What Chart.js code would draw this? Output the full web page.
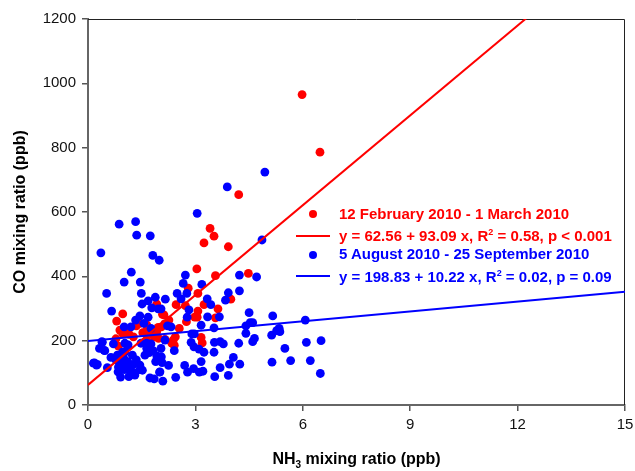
<!DOCTYPE html>
<html>
<head>
<meta charset="utf-8">
<script src="https://cdn.jsdelivr.net/npm/chart.js@4/dist/chart.umd.min.js"></script>
<style>
  body { margin: 0; background: #fff; }
  #wrap { position: relative; width: 635px; height: 471px; font-family: "Liberation Sans", Arial, sans-serif; }
  #c { position: absolute; left: 0; top: 0; }
  .leg { position: absolute; font-weight: bold; font-size: 15px; white-space: nowrap; line-height: 18px; }
  .dot { position: absolute; width: 8px; height: 8px; border-radius: 50%; }
  .ln { position: absolute; height: 2px; width: 34px; }
  #xt { position: absolute; left: 88px; width: 537px; top: 450px; text-align: center; font-weight: bold; font-size: 16px; }
  #xt sub { font-size: 10px; line-height: 0; }
  .leg sup { font-size: 9px; line-height: 0; vertical-align: 6px; }
</style>
</head>
<body>
<div id="wrap">
  <canvas id="c" width="635" height="471"></canvas>
  <div class="dot" style="left:309px;top:210px;background:#ff0000"></div>
  <div class="leg" style="left:339px;top:205px;color:#ff0000">12 February 2010 - 1 March 2010</div>
  <div class="ln" style="left:296px;top:235px;background:#ff0000"></div>
  <div class="leg" style="left:339px;top:227px;color:#ff0000">y = 62.56 + 93.09 x, R<sup>2</sup> = 0.58, p &lt; 0.001</div>
  <div class="dot" style="left:309px;top:251px;background:#0000ff"></div>
  <div class="leg" style="left:339px;top:245px;color:#0000ff">5 August 2010 - 25 September 2010</div>
  <div class="ln" style="left:296px;top:275px;background:#0000ff"></div>
  <div class="leg" style="left:339px;top:268px;color:#0000ff">y = 198.83 + 10.22 x, R<sup>2</sup> = 0.02, p = 0.09</div>
  <div id="xt">NH<sub>3</sub> mixing ratio (ppb)</div>
</div>
<script>
// Feb-Mar 2010 (rød serie)
const winterX = [5.98, 6.48, 4.21, 3.41, 3.52, 3.24, 3.92, 3.04, 3.56, 4.48, 2.80, 3.07, 3.99, 2.46, 2.72,
  3.24, 3.63, 3.07, 3.05, 3.56, 0.97, 0.80, 1.92, 2.08, 2.55, 2.75, 2.98, 2.44, 3.16, 3.19,
  2.34, 2.41, 0.89, 0.97, 1.14, 1.27, 0.78, 0.85, 1.53, 1.64, 1.79, 1.92, 2.05, 2.14, 1.35,
  1.45, 1.97, 1.85, 1.64, 2.12, 2.26, 0.94, 1.13, 2.38, 2.15, 1.78, 1.96, 1.64];
const winterY = [965, 786, 654, 549, 525, 504, 492, 423, 402, 409, 363, 347, 329, 312, 309,
  312, 299, 292, 273, 271, 283, 261, 314, 282, 238, 259, 273, 212, 210, 193,
  192, 186, 233, 222, 220, 212, 206, 183, 225, 231, 222, 228, 243, 252, 246,
  254, 207, 212, 202, 280, 264, 230, 223, 202, 204, 228, 241, 249];

// Aug-Sep 2010 (blå serie)
const summerX = [3.89, 3.05, 0.87, 1.33, 1.36, 1.74, 0.36, 1.81, 1.99, 4.86, 1.21, 1.01, 1.46, 0.52, 2.72,
  2.66, 3.18, 4.23, 4.71, 4.23, 3.92, 3.84, 1.49, 2.49, 2.76, 1.88, 2.16, 1.68, 1.51, 3.33,
  3.43, 2.60, 0.66, 1.78, 1.96, 2.04, 2.82, 2.77, 3.34, 3.67, 4.50, 5.16, 1.45, 1.68, 1.33,
  1.56, 1.20, 1.01, 1.76, 2.22, 2.32, 3.16, 3.52, 4.41, 4.53, 4.60, 4.41, 5.13, 5.27, 5.34,
  2.90, 2.97, 0.39, 0.71, 0.32, 0.47, 1.03, 1.11, 1.48, 1.64, 1.76, 1.64, 1.71, 1.82, 2.04,
  2.15, 2.41, 2.88, 2.96, 3.10, 3.24, 3.52, 3.53, 3.69, 3.78, 4.21, 4.60, 4.65, 4.06, 3.95,
  4.24, 5.14, 3.69, 3.92, 3.54, 3.16, 3.11, 3.21, 2.95, 2.70, 2.78, 2.45, 2.09, 1.85, 2.00,
  2.25, 2.07, 1.89, 1.92, 1.45, 1.52, 1.24, 1.11, 0.94, 0.78, 0.64, 0.15, 0.24, 0.54, 0.91,
  1.14, 1.01, 1.17, 0.82, 0.96, 1.00, 2.05, 4.94, 6.07, 5.36, 5.50, 6.10, 6.51, 5.66, 6.21,
  6.49, 1.25, 1.35, 1.30, 1.05, 0.85, 0.40, 0.45, 0.18, 0.26, 0.89, 1.03, 1.17, 1.45, 1.31,
  0.84, 1.59, 1.12, 2.01, 1.73];
const summerY = [678, 596, 562, 570, 528, 526, 473, 465, 450, 513, 413, 382, 382, 347, 404,
  378, 375, 404, 398, 355, 349, 326, 347, 347, 347, 335, 329, 324, 314, 330,
  312, 330, 292, 302, 299, 299, 296, 273, 274, 274, 287, 277, 277, 273, 264,
  254, 243, 243, 238, 246, 243, 248, 240, 246, 256, 256, 223, 217, 231, 238,
  221, 221, 197, 190, 176, 169, 192, 181, 192, 192, 190, 176, 163, 169, 176,
  202, 169, 195, 181, 174, 164, 164, 195, 197, 190, 192, 197, 207, 148, 127,
  127, 133, 116, 92, 88, 135, 102, 105, 113, 123, 102, 86, 74, 81, 102,
  123, 132, 135, 153, 110, 108, 155, 135, 135, 140, 148, 130, 124, 116, 87,
  88, 110, 116, 155, 164, 145, 150, 724, 264, 228, 176, 195, 200, 138, 138,
  98, 125, 140, 100, 125, 118, 195, 170, 131, 126, 140, 165, 109, 124, 93,
  103, 155, 187, 103, 84];

// regresjonslinjer: [skjæringspunkt, stigning]
const winterFit = [62.56, 93.09];
const summerFit = [198.83, 10.22];
const xTicks = [0, 3, 6, 9, 12, 15];
const yTicks = [0, 200, 400, 600, 800, 1000, 1200];

function pts(xs, ys) {
  return xs.map((x, i) => ({ x: x, y: ys[i] }));
}
function fitLine(fit) {
  return [0, 15].map(x => ({ x: x, y: fit[0] + fit[1] * x }));
}

// ramme rundt plottet (topp og høyre)
const frame = {
  id: "frame",
  beforeDatasetsDraw(chart) {
    const a = chart.chartArea, ctx = chart.ctx;
    ctx.save();
    ctx.strokeStyle = "#222";
    ctx.lineWidth = 1;
    ctx.beginPath();
    ctx.moveTo(a.left, a.top + 0.5);
    ctx.lineTo(a.right - 0.5, a.top + 0.5);
    ctx.lineTo(a.right - 0.5, a.bottom);
    ctx.stroke();
    ctx.restore();
  }
};

const tickFont = { family: "'Liberation Sans', Arial, sans-serif", size: 15 };

new Chart(document.getElementById("c"), {
  type: "scatter",
  data: {
    datasets: [
      { label: "Aug-Sep", data: pts(summerX, summerY), backgroundColor: "#0000ff", borderColor: "#0000ff",
        pointRadius: 4.4, pointBorderWidth: 0, order: 1 },
      { label: "Feb-Mar", data: pts(winterX, winterY), backgroundColor: "#ff0000", borderColor: "#ff0000",
        pointRadius: 4.4, pointBorderWidth: 0, order: 2 },
      { type: "line", data: fitLine(summerFit), borderColor: "#0000ff", borderWidth: 2,
        pointRadius: 0, order: 0 },
      { type: "line", data: fitLine(winterFit), borderColor: "#ff0000", borderWidth: 2,
        pointRadius: 0, order: 0 }
    ]
  },
  options: {
    responsive: false,
    animation: false,
    layout: { padding: { left: 0, right: 10, top: 19, bottom: 0 } },
    plugins: { legend: { display: false }, tooltip: { enabled: false } },
    scales: {
      x: {
        type: "linear", min: 0, max: 15,
        afterBuildTicks: s => { s.ticks = xTicks.map(v => ({ value: v })); },
        afterFit: s => { s.height = 66; s.paddingRight = 2; s.paddingLeft = 0; },
        ticks: { font: tickFont, color: "#111", padding: 5, callback: v => String(v) },
        grid: { drawOnChartArea: false, tickLength: 6, color: "#555", lineWidth: 1.5 },
        border: { color: "#666", width: 2 }
      },
      y: {
        min: 0, max: 1200,
        afterBuildTicks: s => { s.ticks = yTicks.map(v => ({ value: v })); },
        afterFit: s => { s.width = 88; },
        ticks: { font: tickFont, color: "#111", padding: 6, callback: v => String(v) },
        grid: { drawOnChartArea: false, tickLength: 6, color: "#555", lineWidth: 1.5 },
        border: { color: "#666", width: 2 },
        title: { display: true, text: "CO mixing ratio (ppb)", color: "#000",
          font: { family: "'Liberation Sans', Arial, sans-serif", size: 16, weight: "bold" },
          padding: { top: 11, bottom: 0 } }
      }
    }
  },
  plugins: [frame]
});
</script>
</body>
</html>
